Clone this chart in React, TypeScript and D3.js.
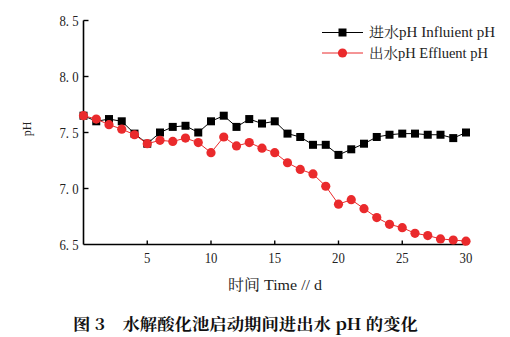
import React from "react";
import * as d3 from "d3";

const days = d3.range(0, 31);
const influent = [7.65, 7.60, 7.62, 7.60, 7.49, 7.40, 7.50, 7.55, 7.56, 7.50, 7.60, 7.65, 7.55, 7.62, 7.58, 7.60,
  7.49, 7.46, 7.39, 7.39, 7.30, 7.35, 7.40, 7.46, 7.48, 7.49, 7.49, 7.48, 7.48, 7.45, 7.50];
const effluent = [7.65, 7.62, 7.57, 7.53, 7.48, 7.40, 7.43, 7.42, 7.45, 7.41, 7.32, 7.46, 7.38, 7.41, 7.36, 7.32,
  7.23, 7.17, 7.13, 7.02, 6.86, 6.90, 6.82, 6.74, 6.68, 6.65, 6.60, 6.58, 6.55, 6.54, 6.53];
const yTicks = [6.5, 7.0, 7.5, 8.0, 8.5];
const xTicks = [5, 10, 15, 20, 25, 30];
const legendLabels = ["进水pH Influient pH", "出水pH Effluent pH"];
const xTitle = "时间 Time // d";
const yTitle = "pH";
const caption = "图 3　水解酸化池启动期间进出水 pH 的变化";

const RED = "#ea2a2c";
const serif = "'Liberation Serif', 'Noto Serif CJK SC', 'Noto Sans CJK SC', serif";

export default function App() {
  const x = d3.scaleLinear().domain([0, 30]).range([83.5, 466]);
  const y = d3.scaleLinear().domain([6.5, 8.5]).range([244.5, 20.5]);
  const line = d3.line<number>().x((_, i) => x(days[i])).y((v) => y(v));
  const fmt = (v: number) => v.toFixed(1).replace(".", ". ");

  return (
    <svg width={510} height={337} style={{ position: "absolute", left: 0, top: 0, background: "#fff" }}
      fontFamily={serif}>
      {/* axes */}
      <line x1={x(0)} x2={x(0)} y1={y(8.5)} y2={y(6.5)} stroke="#000" strokeWidth={1.6} />
      <line x1={x(0)} x2={x(30)} y1={y(6.5)} y2={y(6.5)} stroke="#000" strokeWidth={1.6} />
      {yTicks.map((t) => (
        <g key={"y" + t}>
          {t !== 6.5 && <line x1={x(0)} x2={x(0) + 5} y1={y(t)} y2={y(t)} stroke="#000" strokeWidth={1.4} />}
          <text x={x(0) - 5} y={y(t)} dy="0.35em" textAnchor="end" fontSize={15}
            transform={`translate(${x(0) - 5},0) scale(0.85,1) translate(${-(x(0) - 5)},0)`} fill="#222">{fmt(t)}</text>
        </g>
      ))}
      {xTicks.map((t) => (
        <g key={"x" + t}>
          <line x1={x(t)} x2={x(t)} y1={y(6.5)} y2={y(6.5) - 4} stroke="#000" strokeWidth={1.4} />
          <text x={x(t)} y={y(6.5) + 19} textAnchor="middle" fontSize={15}
            transform={`translate(${x(t)},0) scale(0.85,1) translate(${-x(t)},0)`} fill="#222">{t}</text>
        </g>
      ))}
      <text transform="translate(31,129) rotate(-90)" textAnchor="middle" fontSize={12} fill="#222">{yTitle}</text>
      <text x={228} y={290} fontSize={15} textLength={94} lengthAdjust="spacingAndGlyphs" fill="#222">{xTitle}</text>
      <text x={73} y={330} fontSize={16} fontWeight="bold" textLength={345} lengthAdjust="spacingAndGlyphs"
        fontFamily="'Noto Serif CJK SC', 'Noto Sans CJK SC', sans-serif" fill="#111">{caption}</text>

      {/* series */}
      <path d={line(influent) || ""} fill="none" stroke="#000" strokeWidth={1} />
      {influent.map((v, i) => (
        <rect key={"b" + i} x={x(days[i]) - 4} y={y(v) - 4} width={8} height={8} fill="#000" />
      ))}
      <path d={line(effluent) || ""} fill="none" stroke={RED} strokeWidth={1} />
      {effluent.map((v, i) => (
        <circle key={"r" + i} cx={x(days[i])} cy={y(v)} r={4.6} fill={RED} />
      ))}

      {/* legend */}
      <line x1={322} x2={363} y1={32.5} y2={32.5} stroke="#000" strokeWidth={1} />
      <rect x={338.5} y={28.5} width={8} height={8} fill="#000" />
      <text x={369} y={32.5} dy="0.35em" fontSize={14} textLength={126} lengthAdjust="spacingAndGlyphs" fill="#222">{legendLabels[0]}</text>
      <line x1={322} x2={363} y1={53} y2={53} stroke={RED} strokeWidth={1} />
      <circle cx={342.5} cy={53} r={4.6} fill={RED} />
      <text x={369} y={53} dy="0.35em" fontSize={14} textLength={119} lengthAdjust="spacingAndGlyphs" fill="#222">{legendLabels[1]}</text>
    </svg>
  );
}
